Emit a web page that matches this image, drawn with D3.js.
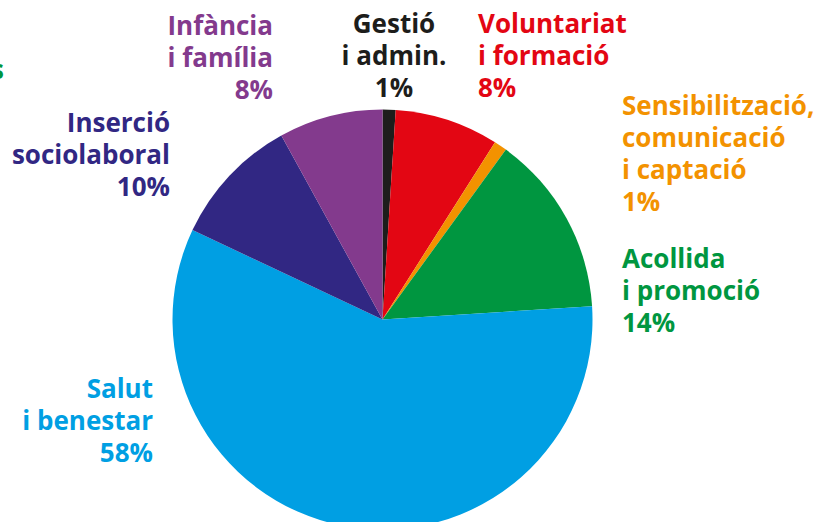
<!DOCTYPE html>
<html>
<head>
<meta charset="utf-8">
<script src="https://cdn.jsdelivr.net/npm/d3@7"></script>
<style>
  html, body { margin: 0; padding: 0; background: #fff; }
  svg { display: block; }
  text { font-family: "Open Sans", "Noto Sans", sans-serif; font-weight: 700; }
</style>
</head>
<body>
<svg id="chart" width="835" height="522"></svg>
<script>
// Data (clockwise from 12 o'clock)
const categories = ["Gestió i admin.", "Voluntariat i formació", "Sensibilització, comunicació i captació",
  "Acollida i promoció", "Salut i benestar", "Inserció sociolaboral", "Infància i família"];
const values = [1, 8, 1, 14, 58, 10, 8];
const colors = ["#1d1d1b", "#e30613", "#f39200", "#009640", "#009fe3", "#312783", "#833a8d"];
const labelLines = [
  ["Gestió", "i admin.", "1%"],
  ["Voluntariat", "i formació", "8%"],
  ["Sensibilització,", "comunicació", "i captació", "1%"],
  ["Acollida", "i promoció", "14%"],
  ["Salut", "i benestar", "58%"],
  ["Inserció", "sociolaboral", "10%"],
  ["Infància", "i família", "8%"]
];
// label layout: anchor point of first baseline and alignment
const labelPos = [
  { x: 394, y: 33, anchor: "middle" },
  { x: 478, y: 33, anchor: "start" },
  { x: 622, y: 115, anchor: "start" },
  { x: 622, y: 268, anchor: "start" },
  { x: 153, y: 398, anchor: "end" },
  { x: 170, y: 132, anchor: "end" },
  { x: 273, y: 35, anchor: "end" }
];

const svg = d3.select("#chart");
const cx = 382.5, cy = 319.5, r = 210;

const pie = d3.pie().sort(null).value(d => d)(values);
const arc = d3.arc().innerRadius(0).outerRadius(r);

const g = svg.append("g").attr("transform", `translate(${cx},${cy})`);
g.selectAll("path")
  .data(pie)
  .join("path")
  .attr("d", arc)
  .attr("fill", (d, i) => colors[i]);

const lineH = 32;
const fontSize = 26;
labelLines.forEach((lines, i) => {
  const p = labelPos[i];
  const t = svg.append("text")
    .attr("x", p.x).attr("y", p.y)
    .attr("text-anchor", p.anchor)
    .attr("fill", colors[i])
    .style("font-size", fontSize + "px");
  lines.forEach((ln, j) => {
    t.append("tspan").attr("x", p.x).attr("y", p.y + j * lineH).text(ln);
  });
});

// cropped fragment of a label at the left edge
svg.append("text")
  .attr("x", 4).attr("y", 79)
  .attr("text-anchor", "end")
  .attr("fill", "#009640")
  .style("font-size", fontSize + "px")
  .text("s");
</script>
</body>
</html>
